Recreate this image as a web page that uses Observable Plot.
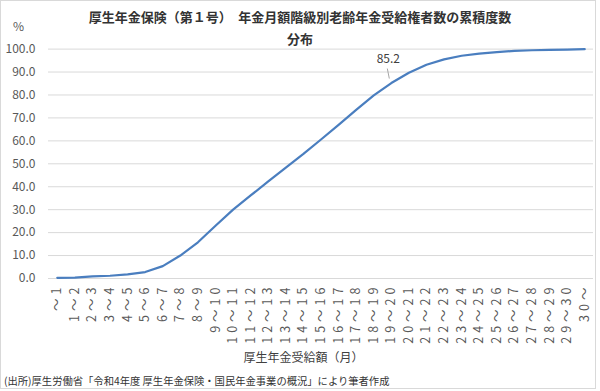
<!DOCTYPE html>
<html><head><meta charset="utf-8">
<script src="https://cdn.jsdelivr.net/npm/d3@7"></script>
<script src="https://cdn.jsdelivr.net/npm/@observablehq/plot@0.6"></script>
<style>
body{margin:0;background:#fff;font-family:"Noto Sans CJK JP",sans-serif;}
#wrap{position:relative;width:600px;height:391px;overflow:hidden;}
#border{position:absolute;left:0;top:0;width:596px;height:389px;border:1px solid #d9d9d9;box-sizing:border-box;}
.t{position:absolute;white-space:nowrap;}
#title{left:0;width:600px;top:6px;text-align:center;font-weight:bold;font-size:13px;color:#333;line-height:22px;}
#pct{left:13px;top:17px;font-size:12px;color:#595959;}
#xt{left:0;width:607px;text-align:center;top:348px;font-size:12px;color:#404040;}
#cap{left:4px;top:373px;font-size:10.3px;color:#333;}
#chart{position:absolute;left:0;top:0;}
#chart g[aria-label="x-axis tick label"] text{letter-spacing:4px;}
</style></head><body>
<div id="wrap">
<div id="border"></div>
<div id="chart"></div>
<div class="t" id="title">厚生年金保険（第１号）　年金月額階級別老齢年金受給権者数の累積度数<br>分布</div>
<div class="t" id="pct">%</div>
<div class="t" id="xt">厚生年金受給額（月）</div>
<div class="t" id="cap">(出所)厚生労働省「令和4年度 厚生年金保険・国民年金事業の概況」により筆者作成</div>
</div>
<script>
const categories = ["～1","1～2","2～3","3～4","4～5","5～6","6～7","7～8","8～9","9～10","10～11","11～12","12～13","13～14","14～15","15～16","16～17","17～18","18～19","19～20","20～21","21～22","22～23","23～24","24～25","25～26","26～27","27～28","28～29","29～30","30～"];
const cumulative = [0.3,0.4,0.9,1.2,1.8,2.8,5.4,10.0,15.8,23.0,30.0,36.2,42.3,48.3,54.3,60.6,67.0,73.5,79.8,85.2,89.7,93.2,95.5,97.1,98.0,98.7,99.2,99.5,99.7,99.8,100.0];
const yTicks = [0,10,20,30,40,50,60,70,80,90,100];
const annotated = "19～20";

const data = categories.map((c,i)=>({cat:c, v:cumulative[i]}));
const ann = data.filter(d=>d.cat===annotated);

const chart = Plot.plot({
  width: 600, height: 391,
  marginLeft: 48, marginRight: 7, marginTop: 48.6, marginBottom: 113,
  style: {fontFamily: '"Noto Sans CJK JP", sans-serif', background: "transparent"},
  x: {type: "point", domain: categories, padding: 0.5, round: false, label: null},
  y: {domain: [0,100], label: null},
  marks: [
    Plot.ruleY(yTicks, {stroke: "#d9d9d9", strokeWidth: 1}),
    Plot.axisY(yTicks, {tickSize: 0, tickPadding: 13, tickFormat: d=>d.toFixed(1), fontSize: 12, fill: "#595959", label: null}),
    Plot.axisX({tickSize: 0, tickPadding: 5, tickRotate: -90, fontSize: 12.5, fill: "#595959", label: null}),
    Plot.line(data, {x: "cat", y: "v", stroke: "#4a7ebf", strokeWidth: 2.2}),
    (index, scales) => {
      const x = scales.x(annotated), y = scales.y(ann[0].v);
      const g = d3.create("svg:g");
      g.append("path").attr("d", `M${x-1.5},${y-4}L${x-3.5},${y-14}`).attr("stroke", "#a6a6a6").attr("fill", "none");
      return g.node();
    },
    Plot.text(ann, {x: "cat", y: "v", text: d=>d.v.toFixed(1), dx: -3, dy: -24, fontSize: 12, fill: "#404040"})
  ]
});
document.getElementById("chart").appendChild(chart);
</script>
</body></html>
